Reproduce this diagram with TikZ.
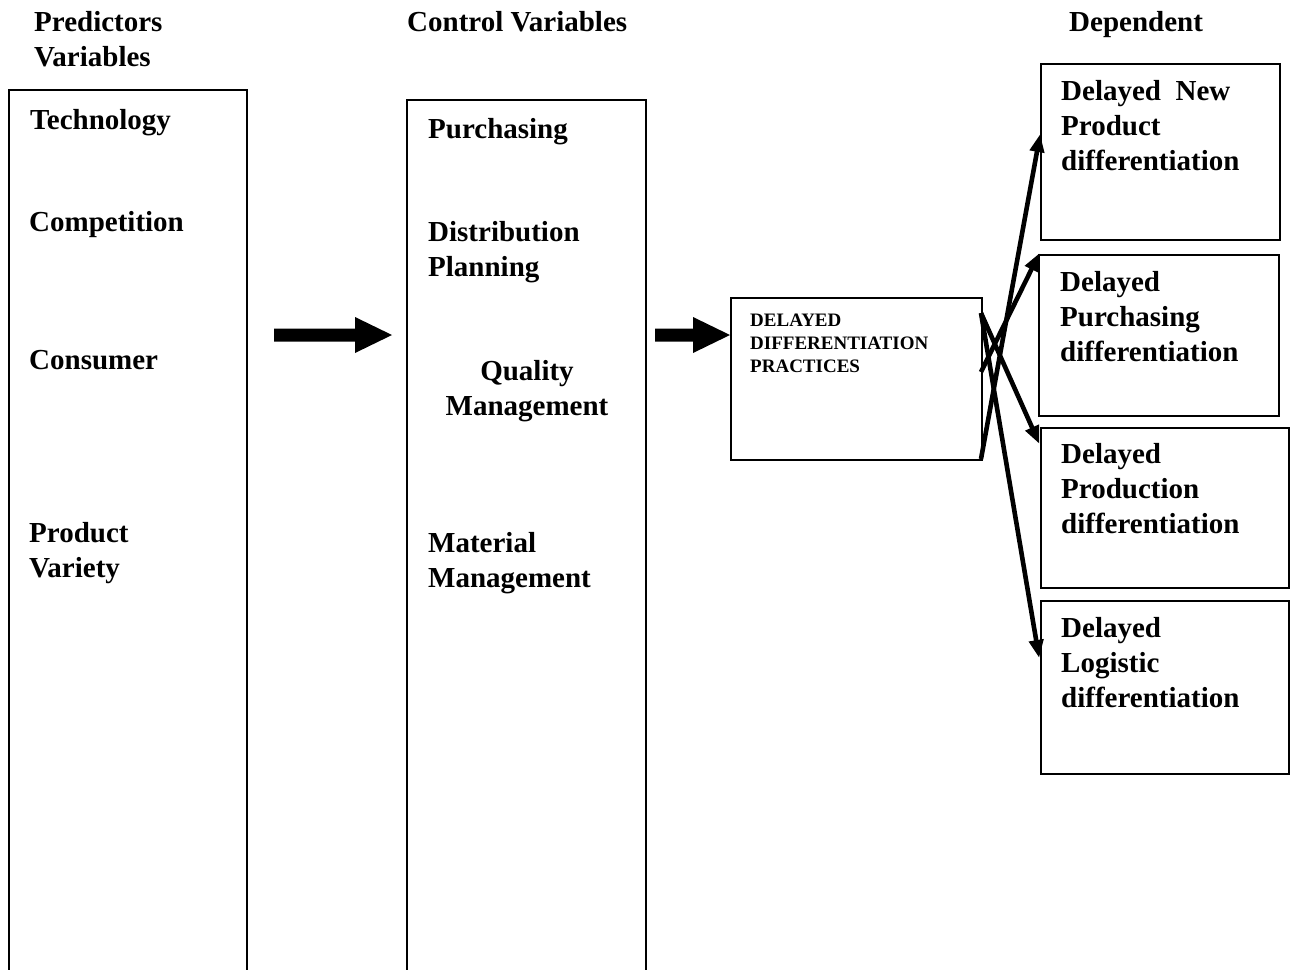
\documentclass[tikz,border=0pt]{standalone}
\usepackage{fontspec}
\setmainfont{Liberation Serif}
\usetikzlibrary{arrows.meta}
\tikzset{
  lbl/.style={anchor=base west, inner sep=0pt, font=\fontsize{29}{35}\selectfont\bfseries, align=left},
  small/.style={anchor=base west, inner sep=0pt, font=\fontsize{19}{23}\selectfont\bfseries, align=left},
  boxline/.style={line width=1.6pt},
  depbox/.style={draw, line width=1.6pt, anchor=north west, inner sep=0pt},
  link/.style={line width=4.6pt, -{Triangle[length=18pt,width=14pt]}, shorten >=-1pt},
  blockarrow/.style={fill=black}
}
\begin{document}
\begin{tikzpicture}[x=1pt,y=-1pt]
\useasboundingbox (0,0) rectangle (1290,969);
% headings
\node[lbl] (hpred) at (34,31) {Predictors};
\node[lbl] (hvar) at (34,66) {Variables};
\node[lbl] (hctrl) at (407,31) {Control Variables};
\node[lbl] (hdep) at (1069,31) {Dependent};
% open left and middle boxes
\coordinate (lbl1) at (9,972); \coordinate (lbl2) at (9,90);
\coordinate (lbr1) at (247,90); \coordinate (lbr2) at (247,972);
\draw[boxline] (lbl1) -- (lbl2) -- (lbr1) -- (lbr2);
\coordinate (mbl1) at (407,972); \coordinate (mbl2) at (407,100);
\coordinate (mbr1) at (646,100); \coordinate (mbr2) at (646,972);
\draw[boxline] (mbl1) -- (mbl2) -- (mbr1) -- (mbr2);
% left box texts
\node[lbl] (tech) at (30,129) {Technology};
\node[lbl] (comp) at (29,231) {Competition};
\node[lbl] (cons) at (29,369) {Consumer};
\node[lbl] (prod) at (29,577) {Product\\Variety};
% middle box texts
\node[lbl] (purch) at (428,138) {Purchasing};
\node[lbl] (dist) at (428,276) {Distribution\\Planning};
\node[lbl, align=center, anchor=base] (qual) at (527,415) {Quality\\Management};
\node[lbl] (mat) at (428,587) {Material\\Management};
% block arrows
\fill[blockarrow] (274,328.5) -- (355,328.5) -- (355,317) -- (392,335) -- (355,353) -- (355,341.5) -- (274,341.5) -- cycle;
\fill[blockarrow] (655,328.5) -- (693,328.5) -- (693,317) -- (730,335) -- (693,353) -- (693,341.5) -- (655,341.5) -- cycle;
% DDP box
\node[depbox, minimum width=251pt, minimum height=162pt] (ddp) at (730,297) {};
\node[small] (ddptext) at (750,372) {DELAYED\\DIFFERENTIATION\\PRACTICES};
% dependent boxes
\node[depbox, minimum width=239pt, minimum height=176pt] (d1) at (1040,63) {};
\node[depbox, minimum width=240pt, minimum height=161pt] (d2) at (1038,254) {};
\node[depbox, minimum width=248pt, minimum height=160pt] (d3) at (1040,427) {};
\node[depbox, minimum width=248pt, minimum height=173pt] (d4) at (1040,600) {};
\node[lbl] (t1) at (1061,170) {Delayed\ \ New\\Product\\differentiation};
\node[lbl] (t2) at (1060,361) {Delayed\\Purchasing\\differentiation};
\node[lbl] (t3) at (1061,533) {Delayed\\Production\\differentiation};
\node[lbl] (t4) at (1061,707) {Delayed\\Logistic\\differentiation};
% connectors
\coordinate (s1) at (981,459);
\coordinate (s2) at (981,372);
\coordinate (s3) at (981,313);
\coordinate (e1) at (1040,135);
\coordinate (e2) at (1039,254);
\coordinate (e3) at (1039,443);
\coordinate (e4) at (1039,657);
\draw[link] (s1) -- (e1);
\draw[link] (s2) -- (e2);
\draw[link] (s3) -- (e3);
\draw[link] (s3) -- (e4);
\end{tikzpicture}
\end{document}
